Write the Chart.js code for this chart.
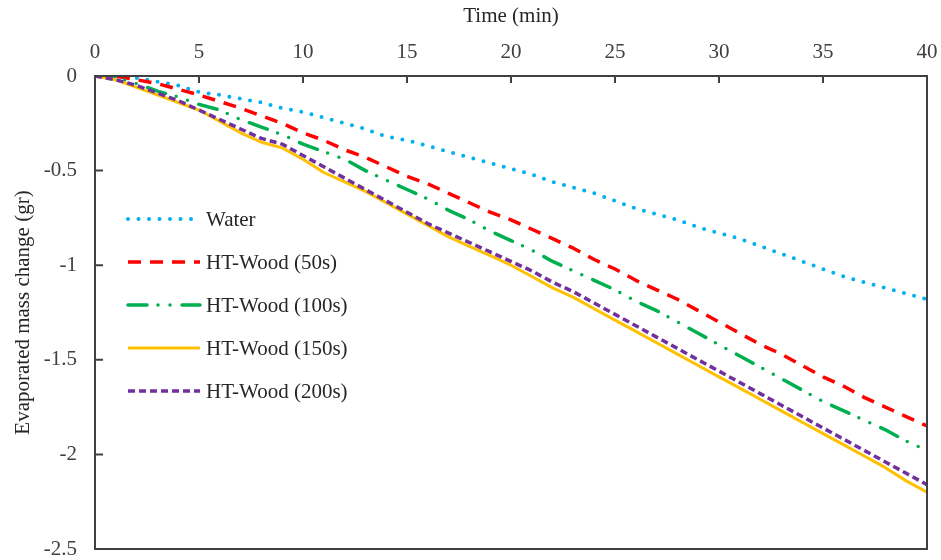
<!DOCTYPE html>
<html>
<head>
<meta charset="utf-8">
<script src="https://cdn.jsdelivr.net/npm/chart.js@4.4.0/dist/chart.umd.min.js"></script>
<style>
  html, body { margin: 0; padding: 0; background: #ffffff; overflow: hidden; }
  #wrap { width: 941px; height: 560px; position: relative; }
  canvas { display: block; }
</style>
</head>
<body>
<div id="wrap"><canvas id="c"></canvas></div>
<script>
// ---- data ----
const timeMin = [0,1,2,3,4,5,6,7,8,9,10,11,12,13,14,15,16,17,18,19,20,21,22,23,24,25,26,27,28,29,30,31,32,33,34,35,36,37,38,39,40];
const water   = [0,0,-0.01,-0.03,-0.05,-0.085,-0.10,-0.12,-0.14,-0.17,-0.19,-0.22,-0.25,-0.28,-0.32,-0.34,-0.37,-0.40,-0.43,-0.46,-0.49,-0.52,-0.56,-0.59,-0.62,-0.66,-0.70,-0.73,-0.76,-0.80,-0.83,-0.86,-0.90,-0.94,-0.98,-1.02,-1.06,-1.09,-1.12,-1.15,-1.18];
const ht50    = [0,0,-0.02,-0.04,-0.07,-0.10,-0.135,-0.17,-0.21,-0.25,-0.30,-0.34,-0.39,-0.43,-0.48,-0.53,-0.57,-0.62,-0.67,-0.72,-0.76,-0.81,-0.86,-0.91,-0.97,-1.02,-1.08,-1.13,-1.18,-1.24,-1.30,-1.36,-1.42,-1.47,-1.53,-1.59,-1.64,-1.70,-1.75,-1.80,-1.85];
const ht100   = [0,-0.01,-0.04,-0.08,-0.11,-0.15,-0.18,-0.23,-0.27,-0.31,-0.36,-0.40,-0.44,-0.50,-0.55,-0.60,-0.65,-0.71,-0.76,-0.82,-0.87,-0.92,-0.98,-1.03,-1.08,-1.13,-1.19,-1.24,-1.30,-1.36,-1.42,-1.48,-1.54,-1.60,-1.66,-1.72,-1.77,-1.82,-1.87,-1.93,-1.98];
const ht150   = [0,-0.02,-0.06,-0.10,-0.14,-0.18,-0.24,-0.30,-0.35,-0.38,-0.44,-0.51,-0.56,-0.61,-0.67,-0.73,-0.79,-0.85,-0.90,-0.95,-1.00,-1.06,-1.12,-1.17,-1.23,-1.29,-1.35,-1.41,-1.47,-1.53,-1.59,-1.65,-1.71,-1.77,-1.83,-1.89,-1.95,-2.01,-2.07,-2.14,-2.20];
const ht200   = [0,-0.02,-0.05,-0.09,-0.13,-0.18,-0.23,-0.28,-0.33,-0.36,-0.42,-0.48,-0.54,-0.60,-0.66,-0.72,-0.78,-0.83,-0.88,-0.93,-0.98,-1.03,-1.09,-1.14,-1.20,-1.26,-1.32,-1.38,-1.44,-1.50,-1.56,-1.62,-1.68,-1.74,-1.80,-1.86,-1.92,-1.98,-2.04,-2.10,-2.16];
const seriesNames = ['Water','HT-Wood (50s)','HT-Wood (100s)','HT-Wood (150s)','HT-Wood (200s)'];
const xTickValues = [0,5,10,15,20,25,30,35,40];
const yTickValues = [0,-0.5,-1,-1.5,-2,-2.5];
const xTitle = 'Time (min)';
const yTitle = 'Evaporated mass change (gr)';

const pts = arr => arr.map((v, i) => ({x: timeMin[i], y: v}));

const FONT = "'Liberation Serif', 'Times New Roman', serif";

const styles = [
  {color:'#00B0F0', width:4,   dash:[0, 10.5],              cap:'round'},
  {color:'#FF0000', width:3.5, dash:[13, 9],                cap:'butt'},
  {color:'#00B050', width:3.5, dash:[19, 11, 0, 12, 0, 12], cap:'round'},
  {color:'#FFC000', width:3,   dash:[],                     cap:'butt'},
  {color:'#7030A0', width:3.5, dash:[7, 4],                 cap:'butt'}
];
const seriesData = [water, ht50, ht100, ht150, ht200];

const datasets = seriesData.map((arr, i) => ({
  label: seriesNames[i],
  data: pts(arr),
  borderColor: styles[i].color,
  backgroundColor: styles[i].color,
  borderWidth: styles[i].width,
  borderDash: styles[i].dash,
  borderCapStyle: styles[i].cap,
  borderJoinStyle: 'round',
  pointRadius: 0,
  tension: 0,
  fill: false,
  order: 5 - i
}));

const framePlugin = {
  id: 'frame',
  afterDatasetsDraw(chart) {
    const {ctx, chartArea: a, scales: {x, y}} = chart;
    ctx.save();
    ctx.strokeStyle = '#404040';
    ctx.lineWidth = 2;
    ctx.setLineDash([]);
    ctx.strokeRect(a.left, a.top, a.right - a.left, a.bottom - a.top);
    ctx.beginPath();
    xTickValues.forEach(v => {
      const px = x.getPixelForValue(v);
      ctx.moveTo(px, a.top); ctx.lineTo(px, a.top + 7);
    });
    yTickValues.forEach(v => {
      const py = y.getPixelForValue(v);
      ctx.moveTo(a.left, py); ctx.lineTo(a.left + 8, py);
    });
    ctx.stroke();
    ctx.restore();
  }
};

const legendPlugin = {
  id: 'insideLegend',
  afterDraw(chart) {
    const {ctx} = chart;
    ctx.save();
    const x0 = 128, x1 = 200, tx = 206, y0 = 219, dy = 43;
    chart.data.datasets.forEach((ds, i) => {
      const yy = y0 + i * dy;
      ctx.beginPath();
      ctx.strokeStyle = ds.borderColor;
      ctx.lineWidth = ds.borderWidth;
      ctx.lineCap = ds.borderCapStyle;
      ctx.setLineDash(ds.borderDash);
      ctx.moveTo(x0, yy); ctx.lineTo(x1, yy);
      ctx.stroke();
      ctx.setLineDash([]);
      ctx.fillStyle = '#262626';
      ctx.font = '21px ' + FONT;
      ctx.textBaseline = 'middle';
      ctx.textAlign = 'left';
      ctx.fillText(ds.label, tx, yy + 1);
    });
    ctx.restore();
  }
};

new Chart(document.getElementById('c'), {
  type: 'line',
  data: { datasets },
  options: {
    responsive: true,
    maintainAspectRatio: false,
    animation: false,
    layout: { autoPadding: false, padding: { left: 0, top: 0, right: 14, bottom: 11 } },
    plugins: { legend: { display: false }, tooltip: { enabled: false } },
    scales: {
      x: {
        type: 'linear', position: 'top', min: 0, max: 40,
        afterBuildTicks: s => { s.ticks = xTickValues.map(v => ({value: v})); },
        afterFit: s => { s.height = 76; },
        grid: { display: false, drawTicks: true, tickLength: 11 },
        border: { display: false },
        ticks: { padding: 0, color: '#404040', font: { family: FONT, size: 21 }, maxRotation: 0,
                 callback: v => String(v) },
        title: { display: true, text: xTitle, color: '#262626', font: { family: FONT, size: 21 }, padding: { top: 4, bottom: 0 } }
      },
      y: {
        type: 'linear', position: 'left', min: -2.5, max: 0,
        afterBuildTicks: s => { s.ticks = yTickValues.map(v => ({value: v})); },
        afterFit: s => { s.width = 95; },
        grid: { display: false, drawTicks: true, tickLength: 18 },
        border: { display: false },
        ticks: { padding: 0, color: '#404040', font: { family: FONT, size: 21, lineHeight: 1 },
                 callback: v => String(v) },
        title: { display: true, text: yTitle, color: '#262626', font: { family: FONT, size: 21 }, padding: { top: 11, bottom: 0 } }
      }
    }
  },
  plugins: [framePlugin, legendPlugin]
});
</script>
</body>
</html>
